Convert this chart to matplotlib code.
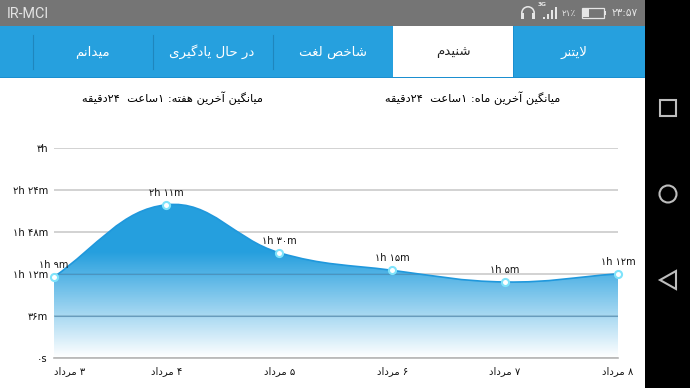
import numpy as np
import matplotlib
matplotlib.use("Agg")
import matplotlib.pyplot as plt
from matplotlib.patches import Rectangle, Circle, Polygon, PathPatch, Wedge
from matplotlib.path import Path
from matplotlib.colors import LinearSegmentedColormap

dates = ["۳ مرداد", "۴ مرداد", "۵ مرداد", "۶ مرداد", "۷ مرداد", "۸ مرداد"]
minutes = [69, 131, 90, 75, 65, 72]
value_labels = ["۱h ۹m", "۲h ۱۱m", "۱h ۳۰m", "۱h ۱۵m", "۱h ۵m", "۱h ۱۲m"]
y_ticks = [0, 36, 72, 108, 144, 180]
y_labels = ["۰s", "۳۶m", "۱h ۱۲m", "۱h ۴۸m", "۲h ۲۴m", "۳h"]
tabs = ["لایتنر", "شنیدم", "شاخص لغت", "در حال یادگیری", "میدانم"]
week_avg = "میانگین آخرین هفته: ۱ساعت  ۲۴دقیقه"
month_avg = "میانگین آخرین ماه: ۱ساعت  ۲۴دقیقه"

BLUE = "#26a0de"

# isolated, final, initial, medial
forms = {
    "ا": (0xFE8D, 0xFE8E), "آ": (0xFE81, 0xFE82), "د": (0xFEA9, 0xFEAA),
    "ر": (0xFEAD, 0xFEAE), "و": (0xFEED, 0xFEEE),
    "ت": (0xFE95, 0xFE96, 0xFE97, 0xFE98), "خ": (0xFEA5, 0xFEA6, 0xFEA7, 0xFEA8),
    "ح": (0xFEA1, 0xFEA2, 0xFEA3, 0xFEA4),
    "س": (0xFEB1, 0xFEB2, 0xFEB3, 0xFEB4), "ش": (0xFEB5, 0xFEB6, 0xFEB7, 0xFEB8),
    "ص": (0xFEB9, 0xFEBA, 0xFEBB, 0xFEBC), "ع": (0xFEC9, 0xFECA, 0xFECB, 0xFECC),
    "غ": (0xFECD, 0xFECE, 0xFECF, 0xFED0), "ق": (0xFED5, 0xFED6, 0xFED7, 0xFED8),
    "گ": (0xFB92, 0xFB93, 0xFB94, 0xFB95), "ل": (0xFEDD, 0xFEDE, 0xFEDF, 0xFEE0),
    "م": (0xFEE1, 0xFEE2, 0xFEE3, 0xFEE4), "ن": (0xFEE5, 0xFEE6, 0xFEE7, 0xFEE8),
    "ه": (0xFEE9, 0xFEEA, 0xFEEB, 0xFEEC), "ی": (0xFBFC, 0xFBFD, 0xFBFE, 0xFBFF),
    "ف": (0xFED1, 0xFED2, 0xFED3, 0xFED4),
}


def shape(s):
    # matplotlib has no bidi or joining, so build the visual string by hand
    s = s.replace("لا", "\ufefb")
    out = []
    for i, c in enumerate(s):
        prev = s[i - 1] if i > 0 else ""
        nxt = s[i + 1] if i + 1 < len(s) else ""
        joins_prev = prev in forms and len(forms[prev]) == 4
        if c == "\ufefb":
            out.append("\ufefc" if joins_prev else c)
        elif c in forms:
            f = forms[c]
            joins_next = len(f) == 4 and (nxt in forms or nxt == "\ufefb")
            if joins_prev and joins_next:
                out.append(chr(f[3]))
            elif joins_prev:
                out.append(chr(f[1]))
            elif joins_next:
                out.append(chr(f[2]))
            else:
                out.append(chr(f[0]))
        else:
            out.append(c)
    # reverse, keeping digit runs in reading order
    runs = []
    for c in out:
        if c in "۰۱۲۳۴۵۶۷۸۹" and runs and runs[-1][-1] in "۰۱۲۳۴۵۶۷۸۹":
            runs[-1] += c
        else:
            runs.append(c)
    return "".join(runs[::-1])


fig = plt.figure(figsize=(6.9, 3.88), dpi=100, facecolor="white")

# screen furniture, in pixels
bg = fig.add_axes([0, 0, 1, 1])
bg.set_xlim(0, 690)
bg.set_ylim(388, 0)
bg.axis("off")
bg.add_patch(Rectangle((0, 0), 645, 26, color="#757575", lw=0))
bg.add_patch(Rectangle((0, 26), 645, 51, color=BLUE, lw=0))
bg.add_patch(Rectangle((0, 76.5), 645, 1.2, color="#1b8fd0", lw=0))
bg.add_patch(Rectangle((393, 26), 120, 51, color="white", lw=0))
bg.add_patch(Rectangle((513, 26), 1, 51, color="#1b8fd0", lw=0))
bg.add_patch(Rectangle((645, 0), 45, 388, color="black", lw=0))
for x in [32.5, 152.5, 272.5]:
    bg.plot([x, x], [35, 69], color="#1f86bd", lw=0.8)

for name, x in zip(tabs, [574, 453, 333, 212, 92]):
    col = "#222222" if name == "شنیدم" else "white"
    bg.text(x, 52, shape(name), color=col, fontsize=9.6, ha="center", va="center",
            family="DejaVu Sans")
bg.text(172, 98, shape(week_avg), fontsize=8.2, ha="center", va="center", color="black")
bg.text(473, 98, shape(month_avg), fontsize=8.2, ha="center", va="center", color="black")

bg.text(7, 13.5, "IR-MCI", color="#e4e4e4", fontsize=10.4, ha="left", va="center", family="Roboto")
bg.text(638, 13, "۲۳:۵۷", color="#e4e4e4", fontsize=7.6, ha="right", va="center")
bg.text(576, 13, "۲۱٪", color="#e4e4e4", fontsize=6.4, ha="right", va="center")
# headphones
bg.add_patch(Wedge((528, 13), 7, 180, 360, width=1.6, color="#e6e6e6", lw=0))
bg.add_patch(Rectangle((521, 13), 3, 6, color="#e6e6e6", lw=0))
bg.add_patch(Rectangle((532, 13), 3, 6, color="#e6e6e6", lw=0))
bg.text(538, 5, "3G", color="#e6e6e6", fontsize=4.2, ha="left", va="center", weight="bold")
for x, h in zip([543, 547, 551, 555], [2, 5, 9, 12]):
    bg.add_patch(Rectangle((x, 19 - h), 2.2, h, color="#e6e6e6", lw=0))
# battery
bg.add_patch(Rectangle((582, 8), 22, 10, fc="none", ec="#e6e6e6", lw=0.9))
bg.add_patch(Rectangle((583, 9), 6, 8, color="#e6e6e6", lw=0))
bg.add_patch(Rectangle((604, 11), 1.5, 4, color="#e6e6e6", lw=0))
# nav buttons
bg.add_patch(Rectangle((660, 100), 16, 16, fc="none", ec="#bdbdbd", lw=1.5))
bg.add_patch(Circle((668, 194), 8.5, fc="none", ec="#bdbdbd", lw=1.5))
bg.add_patch(Polygon([[676, 271], [676, 289], [660, 280]], closed=True, fc="none", ec="#bdbdbd", lw=1.5))

# chart itself
ax = fig.add_axes([53.5 / 690, 1 - 358 / 388, (618 - 53.5) / 690, (358 - 147.5) / 388])
ax.patch.set_alpha(0)
x = np.arange(len(dates))
y = np.array(minutes, dtype=float)
ax.set_xlim(0, len(dates) - 1)
ax.set_ylim(0, 180)
for s in ["top", "left", "right"]:
    ax.spines[s].set_visible(False)
ax.spines["bottom"].set_color("#b5b5b5")
ax.spines["bottom"].set_linewidth(1.2)
ax.set_axisbelow(True)
ax.set_yticks(y_ticks)
ax.set_yticklabels(y_labels, fontsize=7.2, color="#111111")
ax.set_xticks(x)
ax.set_xticklabels([shape(d) for d in dates], fontsize=7.2, color="#111111")
ax.get_xticklabels()[0].set_ha("left")
ax.tick_params(length=0, axis="y", pad=4)
ax.tick_params(length=0, axis="x", pad=6)
ax.grid(axis="y", color="#cfcfcf", lw=1.3)
ax.grid(axis="x", visible=False)

# smooth line through the points as cubic beziers
slopes = np.gradient(y, x)
slopes[0] = (y[1] - y[0]) * 1.1
verts = [(x[0], y[0])]
codes = [Path.MOVETO]
for i in range(len(x) - 1):
    verts += [(x[i] + 0.4, y[i] + slopes[i] * 0.4),
              (x[i + 1] - 0.4, y[i + 1] - slopes[i + 1] * 0.4),
              (x[i + 1], y[i + 1])]
    codes += [Path.CURVE4] * 3
top_line = Path(verts, codes)
area = Path(verts + [(x[-1], 0), (x[0], 0), (x[0], y[0])],
            codes + [Path.LINETO, Path.LINETO, Path.LINETO])

cmap = LinearSegmentedColormap.from_list(
    "fade", [(0.149, 0.627, 0.871, 0.0), (0.149, 0.627, 0.871, 1.0), (0.149, 0.627, 0.871, 1.0)],
)
grad = np.linspace(0, 1, 256).reshape(-1, 1)
im = ax.imshow(grad, origin="lower", extent=[0, 5, 0, 180], aspect="auto", cmap=cmap,
               vmin=0, vmax=1, zorder=2, interpolation="bilinear")
patch = PathPatch(area, transform=ax.transData, fc="none", ec="none")
ax.add_patch(patch)
im.set_clip_path(patch)

# the lower grid lines show through the fill as darker blue
inner = ax.hlines(y_ticks[1:3], 0, 5, color="#4f86ad", lw=0.8, alpha=0.6, zorder=2.5)
inner.set_clip_path(patch)

ax.add_patch(PathPatch(top_line, fc="none", ec="#2098dc", lw=1.2, zorder=3))

ax.scatter(x, y, s=26, fc="white", ec="#7fe3fb", lw=1.5, zorder=5, clip_on=False)
for xi, yi, lab in zip(x, y, value_labels):
    ax.annotate(lab, (xi, yi), xytext=(0, 5), textcoords="offset points", ha="center", va="bottom",
                fontsize=7, color="#111111", zorder=6, annotation_clip=False)

fig.savefig("out.png", dpi=100)
